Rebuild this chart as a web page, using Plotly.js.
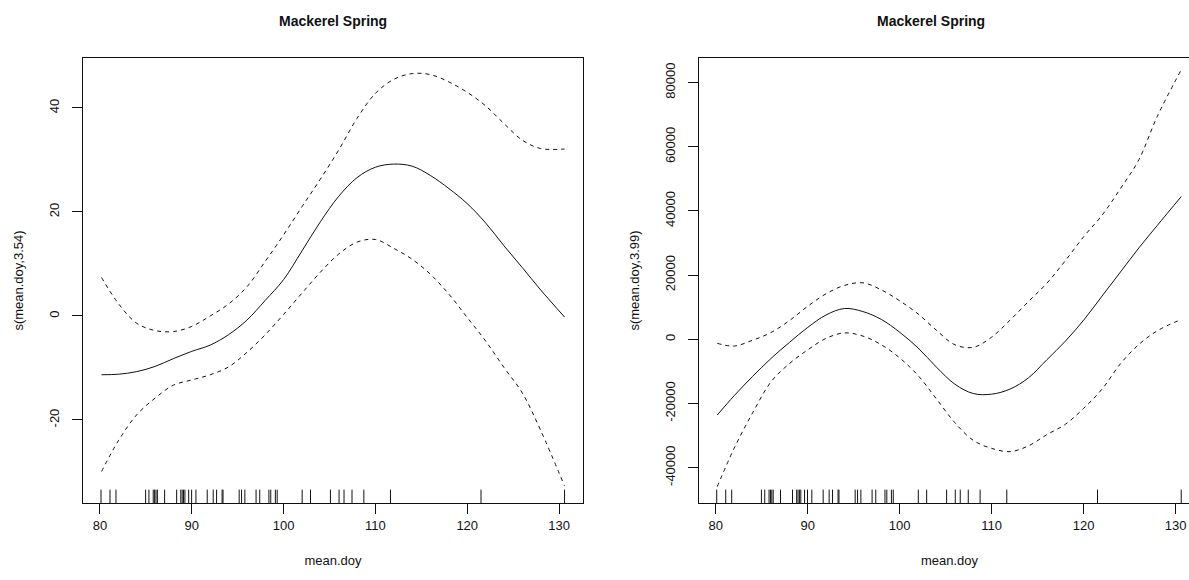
<!DOCTYPE html>
<html>
<head>
<meta charset="utf-8">
<script src="https://cdn.plot.ly/plotly-3.0.1.min.js"></script>
<style>
  html, body { margin: 0; padding: 0; background: #fff; overflow: hidden; }
  #chart { width: 1200px; height: 580px; }
</style>
</head>
<body>
<div id="chart"></div>
<script>
// ---- data ----
const doyGrid = [80.17,82,84,86,88,90,92,94,96,98,100,102,104,106,108,110,112,114,116,118,120,122,124,126,128,130.6];

const leftFit   = [-11.3,-11.2,-10.7,-9.7,-8.2,-6.8,-5.6,-3.6,-0.8,3.0,7.0,12.5,18.1,23.0,26.6,28.6,29.2,28.8,27.0,24.5,21.6,17.9,13.5,9.3,5.0,-0.2];
const leftUpper = [7.4,2.4,-1.4,-2.8,-3.0,-2.0,0.0,2.3,5.6,10.5,15.6,21.0,26.3,31.9,38.0,42.8,45.5,46.6,46.4,45.0,43.0,40.4,37.0,33.8,32.2,32.1];
const leftLower = [-29.9,-24.0,-19.0,-15.8,-13.3,-12.3,-11.3,-9.8,-7.0,-3.6,0.3,4.4,8.4,11.9,14.2,14.7,13.0,10.9,8.0,4.2,-0.3,-4.8,-9.9,-14.8,-22.0,-32.7];

const rightFit   = [-23600,-17600,-11600,-6000,-1000,3700,7600,9600,8650,6200,2200,-2700,-8700,-14000,-16900,-17100,-15500,-12000,-6350,-600,6000,13500,21000,28500,35500,44500];
const rightUpper = [-1250,-2100,-300,2100,5800,10300,14200,16800,17600,15400,12000,7900,2800,-1700,-2500,700,6000,11800,17500,24500,32000,38700,47000,56000,69500,84000];
const rightLower = [-45900,-34000,-23000,-13300,-7600,-3300,300,2000,1000,-1700,-5800,-11300,-18600,-26000,-31500,-34000,-35000,-33200,-29700,-26500,-21500,-15500,-7600,-1600,2650,6200];

const rugDoy = [80.11,81.09,81.74,84.97,85.33,85.8,85.95,86.1,86.25,87.04,88.35,88.8,88.95,89.1,89.25,89.66,89.98,90.45,
                91.68,92.33,92.7,93.3,93.4,95.16,95.42,95.78,97.0,97.4,98.4,98.6,99.1,99.3,
                102.02,102.93,105.1,106.04,106.58,107.45,108.74,111.64,121.5,130.6];

const xTicks = [80,90,100,110,120,130];
const leftYTicks = [-20,0,20,40];
const leftYTickText = ['-20','0','20','40'];
const rightYTicks = [-40000,-20000,0,20000,40000,60000,80000];
const rightYTickText = ['-40000','-20000','0','20000','40000','60000','80000'];

const panelTitle = 'Mackerel Spring';
const xTitle = 'mean.doy';
const leftYTitle = 's(mean.doy,3.54)';
const rightYTitle = 's(mean.doy,3.99)';

// ---- build ----
const FONT = '"Liberation Sans", Arial, sans-serif';
const W = 1200, H = 580;

function line(x, y, xa, ya, dashed) {
  return {
    type: 'scatter', mode: 'lines', x: x, y: y, xaxis: xa, yaxis: ya,
    line: { color: '#111', width: 1, shape: 'spline', smoothing: 1, dash: dashed ? '4px,4px' : 'solid' },
    hoverinfo: 'skip', showlegend: false
  };
}

const traces = [
  line(doyGrid, leftUpper, 'x', 'y', true),
  line(doyGrid, leftFit, 'x', 'y', false),
  line(doyGrid, leftLower, 'x', 'y', true),
  line(doyGrid, rightUpper, 'x2', 'y2', true),
  line(doyGrid, rightFit, 'x2', 'y2', false),
  line(doyGrid, rightLower, 'x2', 'y2', true)
];

const shapes = [];
[['x','y'],['x2','y2']].forEach(([xr, yr]) => {
  rugDoy.forEach(d => {
    shapes.push({ type: 'line', xref: xr, yref: yr + ' domain', x0: d, x1: d, y0: 0, y1: 0.03,
                  line: { color: '#111', width: 1 } });
  });
});

const yDom = [(H - 503) / H, (H - 58) / H];

function xAxis(dom, range) {
  return {
    domain: dom, range: range, tickvals: xTicks, ticks: 'outside', ticklen: 10, tickcolor: '#111',
    showline: true, mirror: true, linecolor: '#111', linewidth: 1, showgrid: false, zeroline: false,
    tickfont: { family: FONT, size: 13, color: '#111' },
    title: { text: xTitle, font: { family: FONT, size: 13, color: '#111' }, standoff: 24 },
    fixedrange: true
  };
}
function yAxis(range, vals, text, title) {
  return {
    domain: yDom, range: range, tickvals: vals, ticktext: text, ticks: 'outside', ticklen: 10, tickcolor: '#111',
    showline: true, mirror: true, linecolor: '#111', linewidth: 1, showgrid: false, zeroline: false,
    tickangle: -90, ticklabelstandoff: 8,
    tickfont: { family: FONT, size: 13, color: '#111' },
    title: { text: title, font: { family: FONT, size: 13, color: '#111' }, standoff: 20 },
    fixedrange: true
  };
}

const layout = {
  width: W, height: H,
  margin: { l: 0, r: 0, t: 0, b: 0 },
  paper_bgcolor: '#fff', plot_bgcolor: '#fff',
  showlegend: false,
  xaxis: xAxis([83 / W, 583 / W], [78.149, 132.61]),
  yaxis: yAxis([-35.96, 49.6], leftYTicks, leftYTickText, leftYTitle),
  xaxis2: xAxis([699 / W, 1200 / W], [78.185, 132.64]),
  yaxis2: Object.assign(yAxis([-51020, 87680], rightYTicks, rightYTickText, rightYTitle), { anchor: 'x2' }),
  shapes: shapes,
  annotations: [
    { text: '<b>' + panelTitle + '</b>', xref: 'paper', yref: 'paper', x: 333 / W, y: (H - 21) / H,
      xanchor: 'center', yanchor: 'middle', showarrow: false, font: { family: FONT, size: 14, color: '#111' } },
    { text: '<b>' + panelTitle + '</b>', xref: 'paper', yref: 'paper', x: 931 / W, y: (H - 21) / H,
      xanchor: 'center', yanchor: 'middle', showarrow: false, font: { family: FONT, size: 14, color: '#111' } }
  ]
};
layout.xaxis.anchor = 'y';
layout.xaxis2.anchor = 'y2';

Plotly.newPlot('chart', traces, layout, { staticPlot: true, displayModeBar: false });
</script>
</body>
</html>
